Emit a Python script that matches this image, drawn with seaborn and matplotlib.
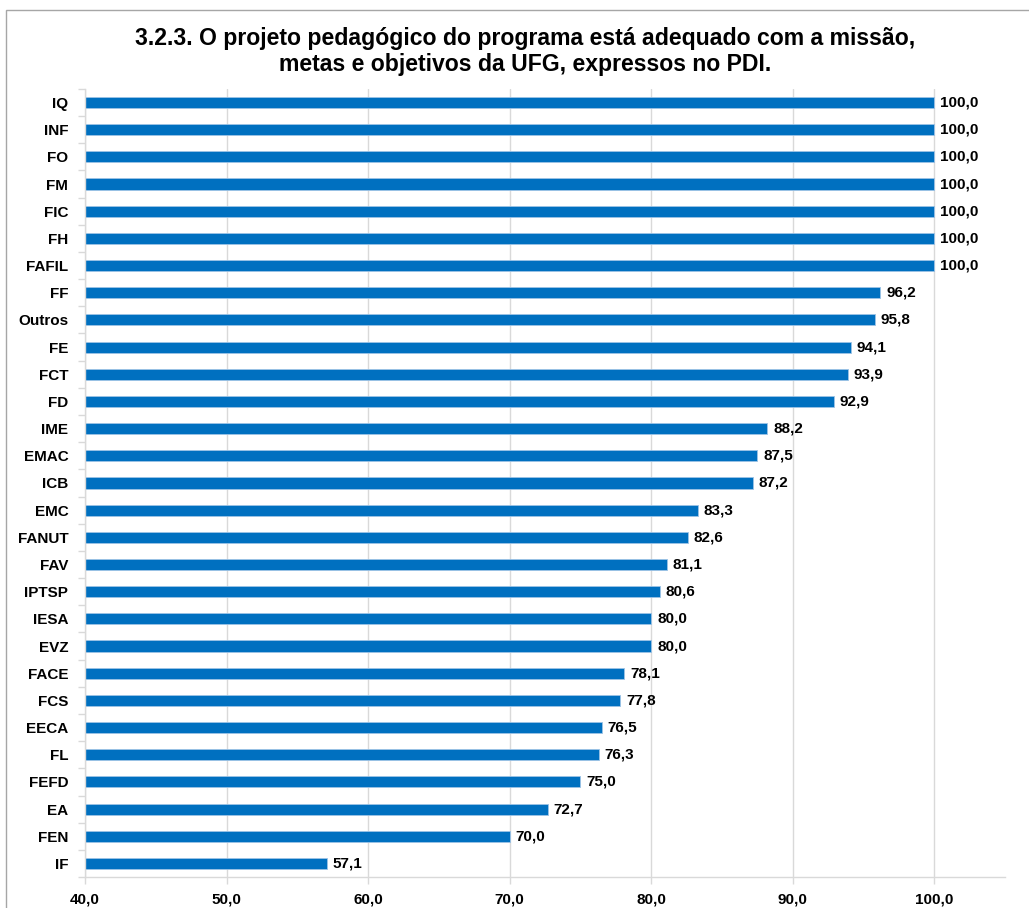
import matplotlib
matplotlib.use("Agg")
import matplotlib.pyplot as plt
import seaborn as sns
import pandas as pd
from matplotlib.patches import Rectangle

units = ["IQ", "INF", "FO", "FM", "FIC", "FH", "FAFIL", "FF", "Outros", "FE",
         "FCT", "FD", "IME", "EMAC", "ICB", "EMC", "FANUT", "FAV", "IPTSP", "IESA",
         "EVZ", "FACE", "FCS", "EECA", "FL", "FEFD", "EA", "FEN", "IF"]
percent = [100.0, 100.0, 100.0, 100.0, 100.0, 100.0, 100.0, 96.2, 95.8, 94.1,
           93.9, 92.9, 88.2, 87.5, 87.2, 83.3, 82.6, 81.1, 80.6, 80.0,
           80.0, 78.1, 77.8, 76.5, 76.3, 75.0, 72.7, 70.0, 57.1]
x_ticks = [40, 50, 60, 70, 80, 90, 100]
title = ("3.2.3. O projeto pedagógico do programa está adequado com a missão,\n"
         "metas e objetivos da UFG, expressos no PDI.")

df = pd.DataFrame({"unidade": units, "percentual": percent})

sns.set_theme(style="white")
plt.rcParams["font.family"] = ["Liberation Sans", "DejaVu Sans"]
plt.rcParams["font.weight"] = "bold"

fig = plt.figure(figsize=(10.29, 9.08), dpi=100)
ax = fig.add_axes([0.0826, 0.0341, 0.894, 0.868])

sns.barplot(data=df, y="unidade", x="percentual", orient="h", color="#0070C0",
            width=0.41, ax=ax, edgecolor="#9DC3E6", linewidth=0.6, saturation=1)

ax.set_xlim(40, 105)
ax.set_ylim(len(units) - 0.5, -0.5)
ax.set_xticks(x_ticks)
ax.set_xticklabels([f"{v:.1f}".replace(".", ",") for v in x_ticks],
                   fontsize=11, fontweight="bold", color="black")
ax.set_yticks(range(len(units)))
ax.set_yticklabels(units, fontsize=11, fontweight="bold", color="black")
ax.set_xlabel("")
ax.set_ylabel("")

ax.grid(axis="x", color="#D9D9D9", linewidth=1)
ax.set_axisbelow(True)
for side in ["top", "right"]:
    ax.spines[side].set_visible(False)
for side in ["left", "bottom"]:
    ax.spines[side].set_color("#D9D9D9")
    ax.spines[side].set_linewidth(1)

# category boundary ticks on the y axis
ax.set_yticks([i - 0.5 for i in range(len(units) + 1)], minor=True)
ax.tick_params(axis="y", which="minor", length=5, color="#D9D9D9", width=1, left=True)
ax.tick_params(axis="y", which="major", length=0, pad=12)
ax.tick_params(axis="x", which="major", length=5, color="#D9D9D9", width=1,
               bottom=True, pad=6)

for i, v in enumerate(percent):
    ax.text(v + 0.42, i, f"{v:.1f}".replace(".", ","), va="center", ha="left",
            fontsize=11, fontweight="bold", color="black")

fig.text(0.51, 0.9435, title, ha="center", va="center", fontsize=16.6,
         fontweight="bold", color="black", linespacing=1.15)

fig.patches.append(Rectangle((6 / 1029, -0.1), 1.2, 1 - 10 / 908 + 0.1,
                             transform=fig.transFigure, fill=False,
                             edgecolor="#A6A6A6", linewidth=1))

fig.savefig("out.png", dpi=100)
